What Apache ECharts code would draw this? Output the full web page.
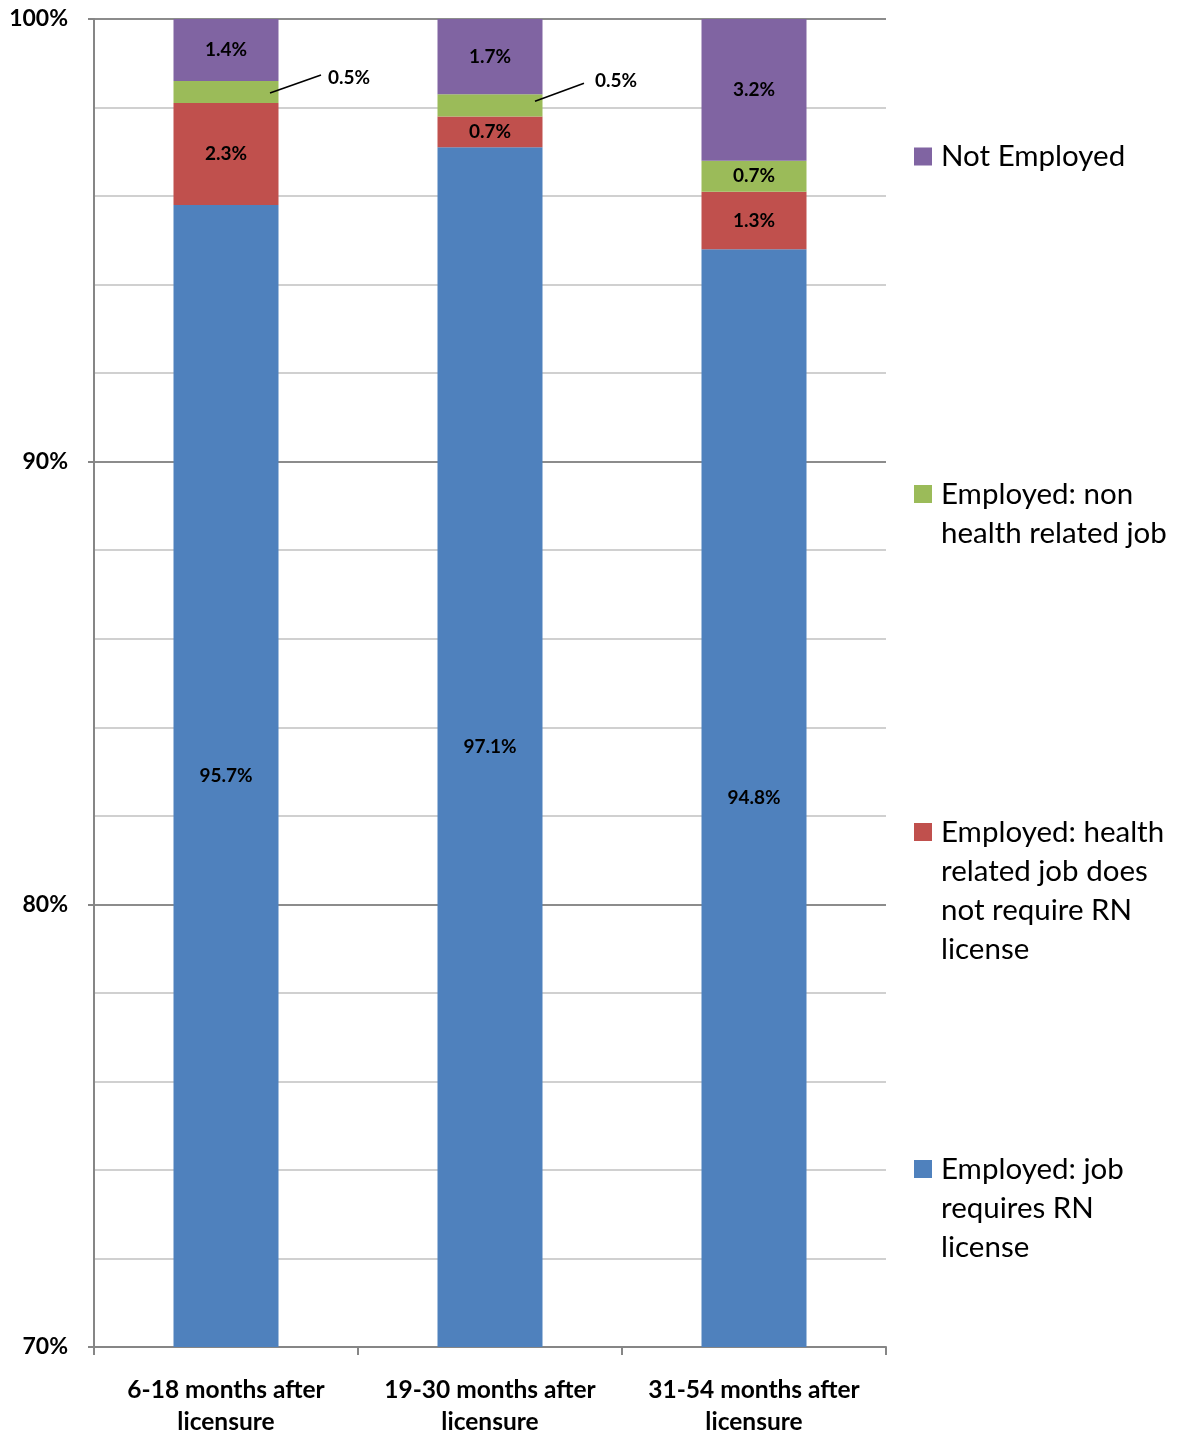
<!DOCTYPE html>
<html>
<head>
<meta charset="utf-8">
<script src="https://cdn.jsdelivr.net/npm/echarts@6/dist/echarts.min.js"></script>
<style>
  html, body { margin: 0; padding: 0; background: #fff; }
  #chart { width: 1179px; height: 1435px; }
</style>
</head>
<body>
<div id="chart"></div>
<script>
const categories = ['6-18 months after\nlicensure', '19-30 months after\nlicensure', '31-54 months after\nlicensure'];
const seriesNames = [
  'Employed: job requires RN license',
  'Employed: health related job does not require RN license',
  'Employed: non health related job',
  'Not Employed'
];
const legendText = [
  'Employed: job\nrequires RN\nlicense',
  'Employed: health\nrelated job does\nnot require RN\nlicense',
  'Employed: non\nhealth related job',
  'Not Employed'
];
// values (segment heights, %)
const requiresRN = [95.8, 97.1, 94.8];
const healthNoRN = [2.3, 0.7, 1.3];
const nonHealth = [0.5, 0.5, 0.7];
const notEmployed = [1.4, 1.7, 3.2];
// data label texts as printed on the chart
const requiresRNLabels = ['95.7%', '97.1%', '94.8%'];
const healthNoRNLabels = ['2.3%', '0.7%', '1.3%'];
const nonHealthLabels = ['0.5%', '0.5%', '0.7%'];
const notEmployedLabels = ['1.4%', '1.7%', '3.2%'];
const yTicks = [70, 80, 90, 100];

const colors = ['#4F81BD', '#C0504D', '#9BBB59', '#8064A2'];
const FONT = 'Lato';

const chart = echarts.init(document.getElementById('chart'), null, { renderer: 'canvas' });

const allValues = [requiresRN, healthNoRN, nonHealth, notEmployed];
const allLabels = [requiresRNLabels, healthNoRNLabels, nonHealthLabels, notEmployedLabels];

// callout placement (pixel offsets) for the small green segments of the first two bars
const callout = {
  0: { dx: 123, dy: -14, sx: 44, sy: 1, ex: -28, ey: -3 },
  1: { dx: 126, dy: -24, sx: 45, sy: -4, ex: -32, ey: 2 }
};

const series = allValues.map((vals, si) => ({
  name: seriesNames[si],
  type: 'bar',
  stack: 'total',
  barWidth: 105,
  itemStyle: { color: colors[si] },
  label: {
    show: true,
    position: 'inside',
    color: '#000',
    fontFamily: FONT,
    fontWeight: 'bold',
    fontSize: 19,
    formatter: p => allLabels[si][p.dataIndex]
  },
  labelLayout: si === 2 ? (p => {
    const c = callout[p.dataIndex];
    return c ? { dx: c.dx, dy: c.dy } : {};
  }) : undefined,
  data: vals
}));

// separate legend per item so each can sit at its own height
const legendTops = [1149.5, 812.5, 474.5, 137];
const LH = 39;
const legends = seriesNames.map((name, si) => {
  const lines = legendText[si].split('\n').length;
  const H = lines * LH;
  const icon = `path://M0,0h0.01v0.01h-0.01z M0,10.5h18v18h-18z M0,${H - 0.01}h0.01v0.01h-0.01z`;
  return {
    data: [{ name: name, icon: icon }],
    left: 914,
    top: legendTops[si],
    orient: 'vertical',
    padding: 0,
    itemWidth: 18,
    itemHeight: H,
    selectedMode: false,
    formatter: () => legendText[si],
    textStyle: {
      fontFamily: FONT,
      fontSize: 29.5,
      lineHeight: LH,
      color: '#000',
      padding: [0, 0, 0, 4]
    }
  };
});

const option = {
  animation: false,
  backgroundColor: '#fff',
  color: colors,
  legend: legends,
  grid: { left: 94, right: 293, top: 19, bottom: 88, containLabel: false, outerBoundsMode: 'none' },
  xAxis: {
    type: 'category',
    data: categories,
    axisLine: { show: true, lineStyle: { color: '#868686', width: 2 } },
    axisTick: { show: true, interval: 0, length: 8, lineStyle: { color: '#868686', width: 2 } },
    axisLabel: {
      interval: 0,
      hideOverlap: false,
      margin: 27,
      color: '#000',
      fontFamily: FONT,
      fontWeight: 'bold',
      fontSize: 24.5,
      lineHeight: 32
    }
  },
  yAxis: {
    type: 'value',
    min: yTicks[0],
    max: yTicks[yTicks.length - 1],
    interval: 10,
    axisLine: { show: true, lineStyle: { color: '#868686', width: 2 } },
    axisTick: { show: true, length: 6, lineStyle: { color: '#868686', width: 2 } },
    axisLabel: {
      margin: 26,
      color: '#000',
      fontFamily: FONT,
      fontWeight: 'bold',
      fontSize: 23,
      formatter: '{value}%'
    },
    splitLine: { show: true, lineStyle: { color: '#8c8c8c', width: 2 } },
    minorTick: { show: false, splitNumber: 5 },
    minorSplitLine: { show: true, lineStyle: { color: '#d0d0d0', width: 2 } }
  },
  series: series
};
chart.setOption(option);

// leader lines for the outside labels, positioned from the library's own scales
const leaders = Object.keys(callout).map(k => {
  const i = +k;
  const c = callout[i];
  const mid = requiresRN[i] + healthNoRN[i] + nonHealth[i] / 2;
  const pt = chart.convertToPixel({ gridIndex: 0 }, [i, mid]);
  return {
    type: 'line',
    z: 100,
    shape: { x1: pt[0] + c.sx, y1: pt[1] + c.sy, x2: pt[0] + c.dx + c.ex, y2: pt[1] + c.dy + c.ey },
    style: { stroke: '#000', lineWidth: 1.6 }
  };
});
chart.setOption({ graphic: leaders });
</script>
</body>
</html>
